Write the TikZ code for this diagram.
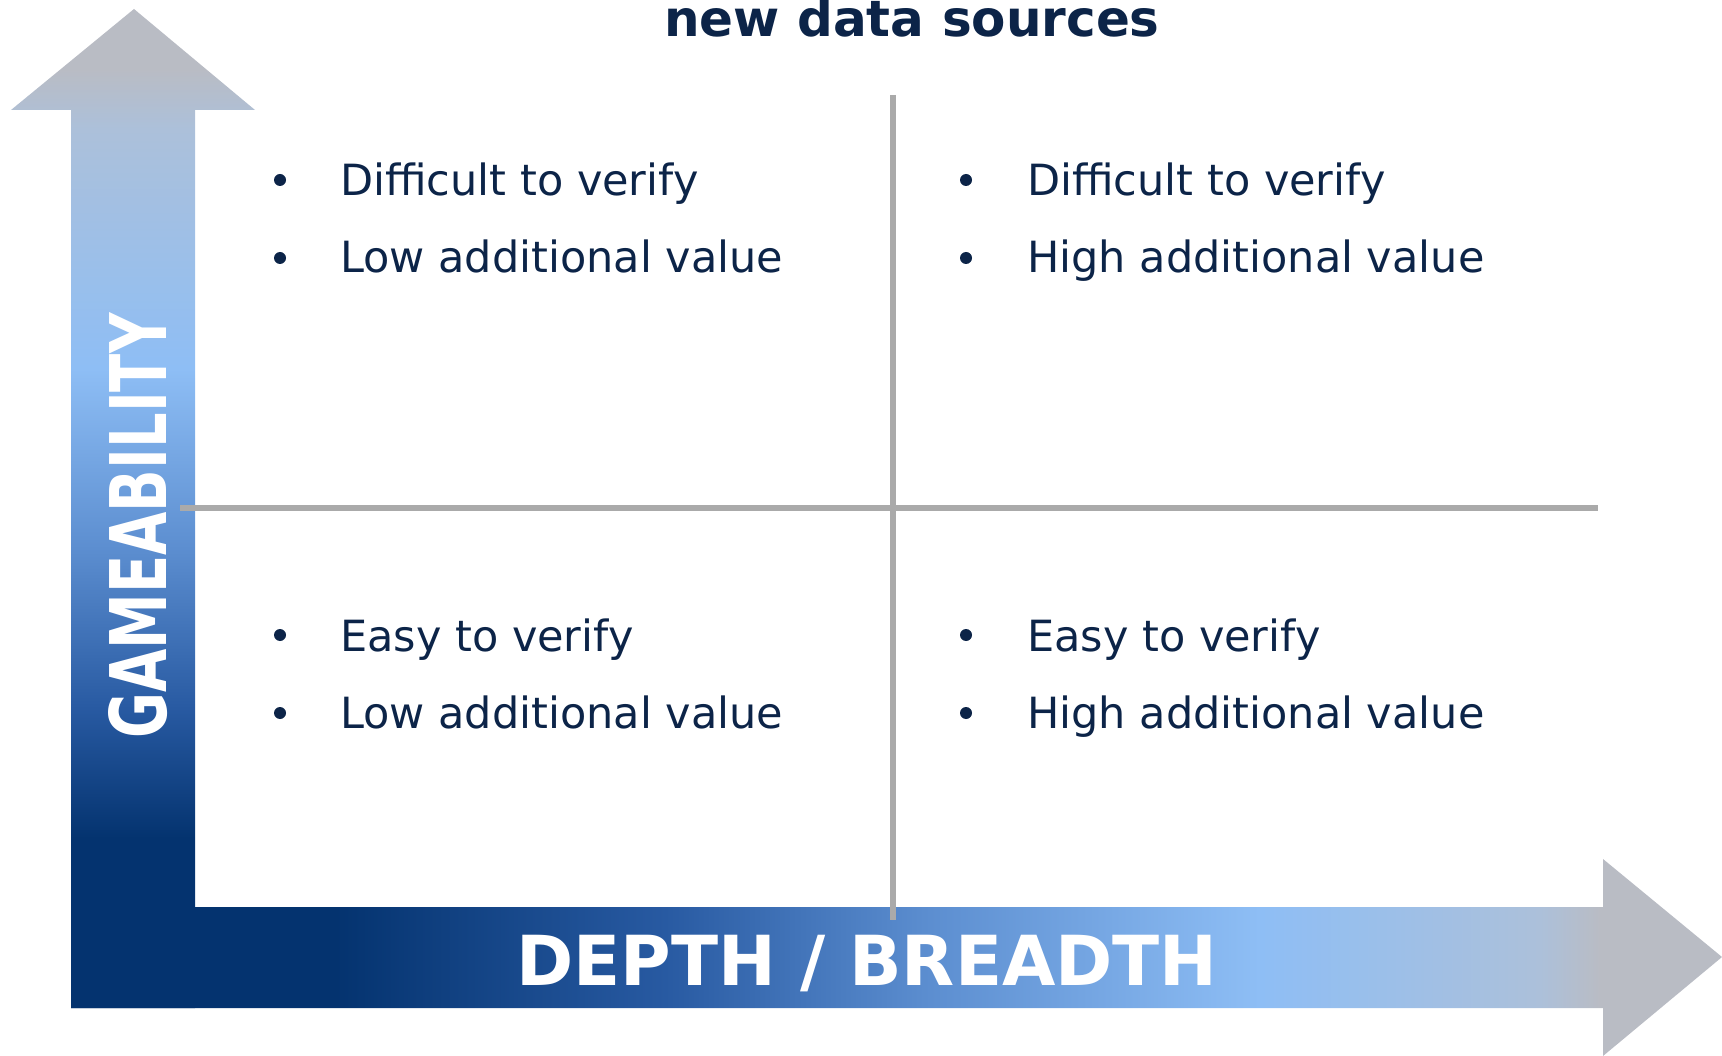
\documentclass[tikz,border=0pt]{standalone}
\usepackage{fontspec}
\setmainfont{DejaVu Sans}
\usepackage{graphicx}

\definecolor{navytext}{RGB}{12,36,72}
\definecolor{navybar}{RGB}{4,51,111}
\definecolor{deepblue}{RGB}{40,90,162}
\definecolor{midblue}{RGB}{92,142,208}
\definecolor{lightblue}{RGB}{142,190,245}
\definecolor{paleblue}{RGB}{172,192,218}
\definecolor{headgray}{RGB}{185,188,196}
\definecolor{gridgray}{RGB}{170,170,170}

\pgfdeclareverticalshading{gameshade}{100bp}{color(0bp)=(navybar); color(25bp)=(navybar); color(33.5bp)=(navybar); color(40bp)=(deepblue); color(48bp)=(midblue); color(57bp)=(lightblue); color(69bp)=(paleblue); color(72bp)=(headgray); color(100bp)=(headgray)}
\pgfdeclarehorizontalshading{depthshade}{100bp}{color(0bp)=(navybar); color(25bp)=(navybar); color(33bp)=(navybar); color(43bp)=(deepblue); color(51bp)=(midblue); color(61bp)=(lightblue); color(69.5bp)=(paleblue); color(71.3bp)=(headgray); color(100bp)=(headgray)}

\begin{document}
\begin{tikzpicture}[x=1pt,y=-1pt,
	item/.style={anchor=base west, inner sep=0pt, text=navytext, font=\fontsize{43}{49}\selectfont},
	dot/.style={circle, fill=navytext, inner sep=0pt, minimum size=12pt},
	axislabel/.style={inner sep=0pt, text=white, font=\bfseries},
	grid/.style={draw=gridgray, line width=6pt}]
	\useasboundingbox (0,0) rectangle (1722,1056);
	% axes
	\shade[shading=gameshade] (134,9) -- (255,110) -- (195,110) -- (195,1008) -- (71,1008) -- (71,110) -- (11,110) -- cycle;
	\shade[shading=depthshade] (71,907) -- (1603,907) -- (1603,859) -- (1722,957) -- (1603,1056) -- (1603,1008) -- (71,1008) -- cycle;
	% quadrant lines
	\coordinate (vtop) at (893,95);
	\coordinate (vbot) at (893,920);
	\coordinate (hleft) at (180,508);
	\coordinate (hright) at (1598,508);
	\draw [grid] (vtop) -- (vbot);
	\draw [grid] (hleft) -- (hright);
	\node (title) [anchor=base, inner sep=0pt, text=navytext, font=\fontsize{50}{56}\selectfont\bfseries] at (912,37) {new data sources};
	\node (gameability) [axislabel, rotate=90] at (138,526) {\resizebox{425pt}{58pt}{GAMEABILITY}};
	\node (depth) [axislabel, anchor=base, font=\fontsize{69}{76}\selectfont\bfseries] at (867,985) {DEPTH / BREADTH};
	% top left
	\node (dtl1) [dot] at (280,180) {};
	\node (tl1) [item] at (340,196) {Difficult to verify};
	\node (dtl2) [dot] at (280,258) {};
	\node (tl2) [item] at (340,273) {Low additional value};
	% top right
	\node (dtr1) [dot] at (966,180) {};
	\node (tr1) [item] at (1027,196) {Difficult to verify};
	\node (dtr2) [dot] at (966,258) {};
	\node (tr2) [item] at (1027,273) {High additional value};
	% bottom left
	\node (dbl1) [dot] at (280,635) {};
	\node (bl1) [item] at (340,651) {Easy to verify};
	\node (dbl2) [dot] at (280,713) {};
	\node (bl2) [item] at (340,728) {Low additional value};
	% bottom right
	\node (dbr1) [dot] at (966,635) {};
	\node (br1) [item] at (1027,651) {Easy to verify};
	\node (dbr2) [dot] at (966,713) {};
	\node (br2) [item] at (1027,728) {High additional value};
\end{tikzpicture}
\end{document}
